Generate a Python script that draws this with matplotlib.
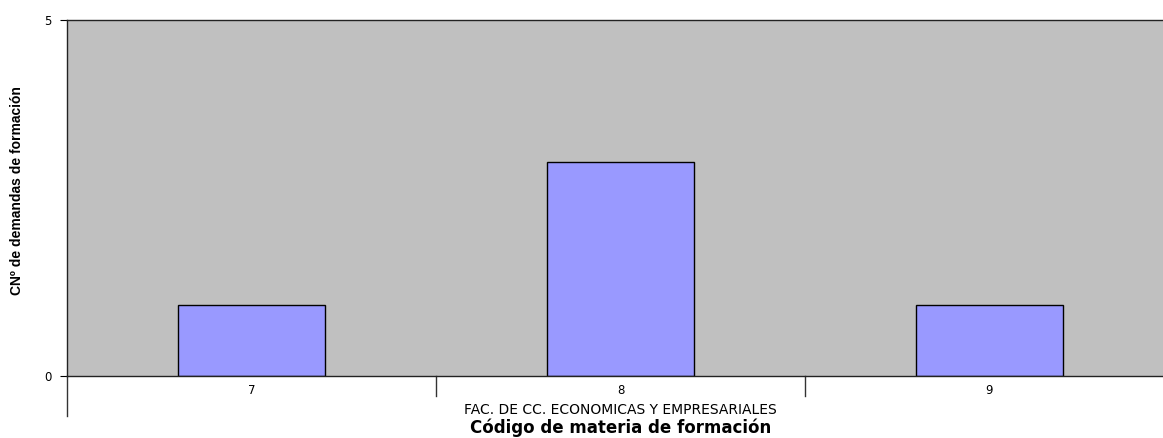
import matplotlib
matplotlib.use("Agg")
import matplotlib.pyplot as plt
from matplotlib.lines import Line2D

# data
categories = ["7", "8", "9"]
demandas = [1, 3, 1]
group_label = "FAC. DE CC. ECONOMICAS Y EMPRESARIALES"

plt.rcParams["font.family"] = ["DejaVu Sans"]

W, H = 1163, 438
fig = plt.figure(figsize=(W / 100, H / 100), dpi=100)
# axes box in pixels: left 67, right 1174 (past the image edge), top 20, bottom 376
left, right, top, bottom = 67, 1174, 20, 376
ax = fig.add_axes([left / W, 1 - bottom / H, (right - left) / W, (bottom - top) / H])
ax.set_facecolor("#C0C0C0")

xs = range(len(categories))
ax.bar(xs, demandas, width=0.4, color="#9999FF", edgecolor="black", linewidth=1)

ax.set_xlim(-0.5, len(categories) - 0.5)
ax.set_ylim(0, 5)
ax.set_yticks([0, 5])
ax.tick_params(axis="y", direction="out", length=5, labelsize=8.5, pad=6)
ax.set_xticks([])
for s in ["top", "bottom", "left", "right"]:
    ax.spines[s].set_color("#222222")
    ax.spines[s].set_linewidth(1)

ax_h = bottom - top
xt = ax.get_xaxis_transform()

# category labels and separators below the axis
for i, c in enumerate(categories):
    ax.text(i, -(390 - bottom) / ax_h, c, ha="center", va="center", fontsize=8.5, transform=xt)
for b in range(1, len(categories)):
    ax.add_line(Line2D([b - 0.5, b - 0.5], [0, -20 / ax_h], color="#333333",
                       linewidth=1, transform=xt, clip_on=False))
for b in [-0.5, len(categories) - 0.5]:
    ax.add_line(Line2D([b, b], [0, -40 / ax_h], color="#333333",
                       linewidth=1, transform=xt, clip_on=False))

mid = (len(categories) - 1) / 2
ax.text(mid, -(410 - bottom) / ax_h, group_label, ha="center", va="center", fontsize=10,
        transform=xt)
ax.text(mid, -(428 - bottom) / ax_h, "Código de materia de formación", ha="center",
        va="center", fontsize=12, fontweight="bold", transform=xt)

fig.text(17 / W, 1 - 191 / H, "CNº de demandas de formación", rotation=90,
         ha="center", va="center", fontsize=10, fontweight="bold",
         family=["Liberation Sans", "DejaVu Sans"])

fig.savefig("out.png", dpi=100, facecolor="white")
plt.close(fig)
